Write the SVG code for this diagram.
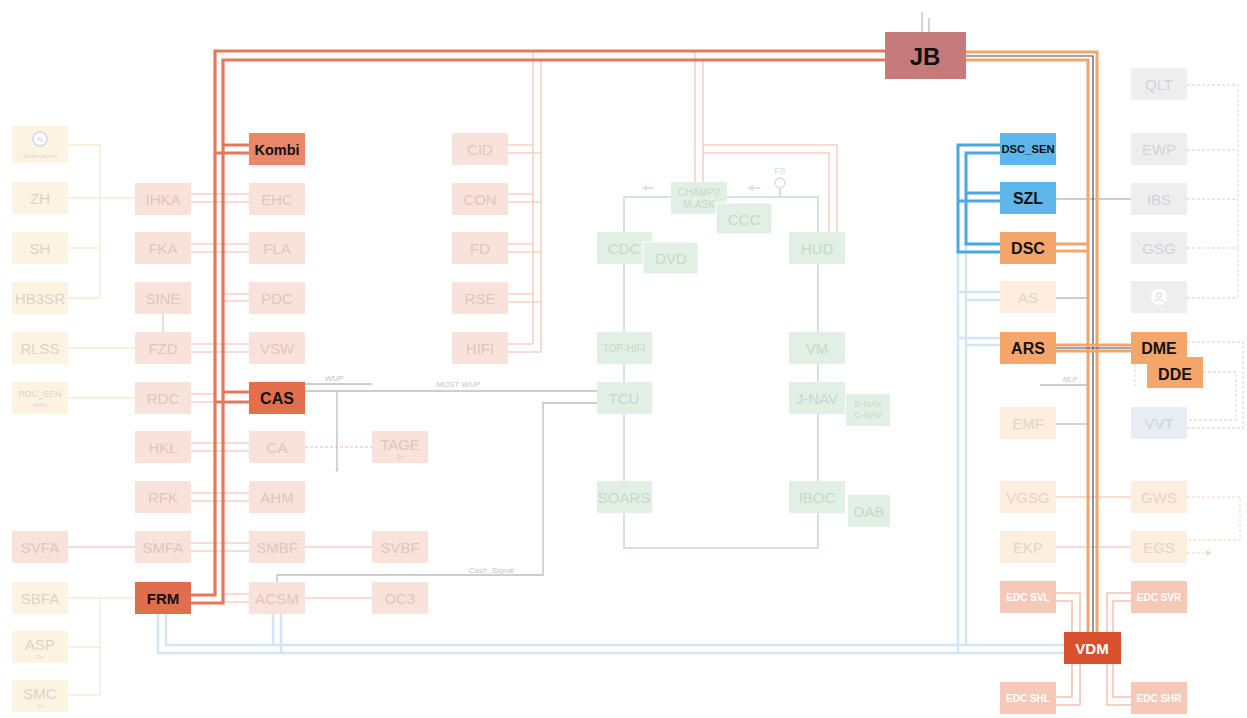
<svg xmlns="http://www.w3.org/2000/svg" width="1247" height="718" viewBox="0 0 1247 718">
<style>
text{font-family:"Liberation Sans",Arial,sans-serif;text-anchor:middle;dominant-baseline:central}
.fr{fill:#f9e2da}.tfr{fill:#e2c5bc;font-size:15px}
.fy{fill:#fdf3e3}.tfy{fill:#dcd3c6;font-size:15px}
.fg{fill:#e2efe5}.tfg{fill:#c5d9ca;font-size:15px}
.fgr{fill:#eeeeef}.tfgr{fill:#d3d3d6;font-size:15px}
.fo{fill:#fdeee0}.tfo{fill:#e6d3c5;font-size:15px}
.edc{fill:#f6c8b8}.tedc{fill:#ffffff;font-size:10px;font-weight:bold}
.strong{font-weight:bold;fill:#111;font-size:16px}
.lr{fill:none;stroke:#e5785b;stroke-width:3.2}
.lo{fill:none;stroke:#f2a66c;stroke-width:3}
.ld{fill:none;stroke:#4b4a6a;stroke-width:1.2}
.lb{fill:none;stroke:#4aa8e2;stroke-width:3}
.lbf{fill:none;stroke:#d3e5f4;stroke-width:2.5}
.lp{fill:none;stroke:#f6d0c4;stroke-width:1.6}
.ly{fill:none;stroke:#f5ebd5;stroke-width:1.3}
.lg{fill:none;stroke:#d3e5d8;stroke-width:2}
.lgr{fill:none;stroke:#bdbdbd;stroke-width:1.3}
.lgd{fill:none;stroke:#e0e0e3;stroke-width:1.3;stroke-dasharray:3 2}
.lod{fill:none;stroke:#f7e3cf;stroke-width:1.3;stroke-dasharray:3 2}
.le{fill:none;stroke:#f3c4b4;stroke-width:1.6}
.lab{fill:#c2c2c2;font-size:8px;font-style:italic}
</style>

<g id="connectors">
  <path class="ly" d="M67,145 H100 V298 M67,198 H135 M67,248 H100 M67,298 H100 M67,348 H135 M67,398 H135 M67,598 H135 M100,598 V695 M67,647 H100 M67,695 H100"/>
  <path class="lp" d="M67,547 H135 M163,314 V332 M305,547 H372 M305,598 H372"/>
  <path class="lp" stroke-dasharray="3 2" d="M305,447 H372"/>
  <path class="lp" d="M191,194 H249 M191,202 H249 M191,244 H249 M191,252 H249 M223,294 H249 M223,301 H249 M191,344 H249 M191,352 H249 M191,394 H215 M191,402 H215 M191,443 H249 M191,451 H249 M191,493 H249 M191,501 H249 M191,543 H249 M191,551 H249 M223,594 H249 M223,602 H249"/>
  <path class="lp" d="M533,51 V344 M541,60 V352 M508,145 H533 M508,153 H541 M508,194 H533 M508,202 H541 M508,244 H533 M508,252 H541 M508,294 H533 M508,302 H541 M508,344 H533 M508,352 H541"/>
  <path class="lp" d="M695,51 V182 M703,60 V182 M703,145 H837 V232 M703,153 H829 V232"/>
  <path class="lg" d="M624,197 H818 V548 H624 Z M780,188 V197"/>
  <circle cx="780" cy="183" r="5" fill="#fff" stroke="#d3e5d8" stroke-width="1.5"/>
  <path fill="#d8e8dc" d="M641,188 l6,-3 v2 h7 v2 h-7 v2 z M747,188 l6,-3 v2 h7 v2 h-7 v2 z"/>
  <path class="lgr" d="M305,391 H597"/>
  <path class="lgr" stroke="#cfcfcf" d="M305,384 H372 M337,391 V470"/>
  <circle cx="337" cy="470" r="1.5" fill="#cfcfcf"/>
  <path class="lgr" stroke="#c3c7cc" d="M277,582 V575 H543 V403 H597"/>
  <path class="lbf" d="M958,252 V653 M966,244 V645 M158,614 V653 H1064 M166,614 V645 H1064 M273,614 V645 M281,614 V653 M958,292 H1000 M966,300 H1000 M958,338 H1000 M966,345 H1000"/>
  <path class="lgd" d="M1187,85 H1238 V298 M1187,150 H1238 M1187,199 H1238 M1187,248 H1238 M1187,298 H1238 M1187,342 H1243 V428 H1187 M1203,372 H1236 V420 H1187 M1135,364 V386"/>
  <path class="lod" d="M1187,497 H1240 V540 H1187 M1187,553 H1206"/>
  <path fill="#f2d9c6" d="M1212,553 l-6,-3 v6 z"/>
  <path class="lp" stroke="#f3dccb" d="M1056,497 H1131 M1056,547 H1131"/>
  <path class="lgr" stroke="#cfcfcf" d="M1056,298 H1088 M1040,385 H1088"/>
  <path class="lgr" stroke="#f1cbae" stroke-width="2" d="M1056,424 H1088"/>
  <path class="lgr" stroke="#8d8d8d" d="M1056,199 H1131"/>
  <path class="le" d="M1056,593 H1080 V632 M1056,601 H1072 V632 M1131,593 H1107 V632 M1131,601 H1113 V632 M1056,705 H1080 V664 M1056,697 H1072 V664 M1131,705 H1107 V664 M1131,697 H1113 V664"/>
  <path class="lgr" stroke="#c4c4c4" d="M922,12 V32 M929,18 V32"/>
  <path class="lr" d="M885,51 H215 V595 H191"/>
  <path class="lr" d="M885,60 H223 V603 H191"/>
  <path class="lr" d="M223,145 H249 M215,153 H249 M223,392 H249 M215,402 H249"/>
  <path class="lo" d="M966,52 H1097 V632"/>
  <path class="lo" d="M966,60 H1088 V632"/>
  <path class="ld" d="M966,56 H1093 V632"/>
  <path class="lo" stroke-width="2.5" d="M1056,244 H1088 M1056,251 H1088 M1056,345 H1131 M1056,351 H1131"/>
  <path class="ld" stroke="#7d6f78" d="M1056,348 H1131"/>
  <path class="lb" d="M1000,145 H958 V252 H1000"/>
  <path class="lb" d="M1000,153 H966 V244 H1000"/>
  <path class="lb" d="M1000,193 H966 M1000,201 H958"/>
  <text class="lab" x="334" y="378">WUP</text>
  <text class="lab" x="458" y="384">MOST WUP</text>
  <text class="lab" x="491" y="570">Cash_Signal</text>
  <text class="lab" x="1070" y="379" style="font-size:7px">MLP</text>
  <text class="lab" x="780" y="171" style="font-style:normal;font-size:9px;fill:#d0ddd3">FS</text>
</g>

<g id="n-icon1"><rect class="fy" x="12" y="126" width="56" height="37"/><circle cx="40" cy="139" r="7" fill="#fff" stroke="#d8dde8" stroke-width="2"/><text x="40" y="139" style="font-size:8px;fill:#c9d0e0">N</text><text x="40" y="156" style="font-size:5px;fill:#ddd5c8">Nackenwärmer</text></g>
<g id="n-ZH"><rect class="fy" x="12" y="182" width="56" height="32"/><text class="tfy" x="40" y="198">ZH</text></g>
<g id="n-SH"><rect class="fy" x="12" y="232" width="56" height="32"/><text class="tfy" x="40" y="248">SH</text></g>
<g id="n-HB3SR"><rect class="fy" x="12" y="282" width="56" height="32"/><text class="tfy" x="40" y="298">HB3SR</text></g>
<g id="n-RLSS"><rect class="fy" x="12" y="332" width="56" height="32"/><text class="tfy" x="40" y="348">RLSS</text></g>
<g id="n-RDCSEN"><rect class="fy" x="12" y="382" width="56" height="32"/><text class="tfy" x="40" y="394" style="font-size:9px">RDC_SEN</text><text class="tfy" x="40" y="405" style="font-size:6px">4x/5x</text></g>
<g id="n-SVFA"><rect class="fr" x="12" y="531" width="56" height="32"/><text class="tfr" x="40" y="547">SVFA</text></g>
<g id="n-SBFA"><rect class="fy" x="12" y="582" width="56" height="32"/><text class="tfy" x="40" y="598">SBFA</text></g>
<g id="n-ASP"><rect class="fy" x="12" y="631" width="56" height="32"/><text class="tfy" x="40" y="644">ASP</text><text class="tfy" x="40" y="657" style="font-size:6px">2x</text></g>
<g id="n-SMC"><rect class="fy" x="12" y="680" width="56" height="32"/><text class="tfy" x="40" y="693">SMC</text><text class="tfy" x="40" y="706" style="font-size:6px">2x</text></g>

<g id="n-IHKA"><rect class="fr" x="135" y="183" width="56" height="32"/><text class="tfr" x="163" y="199">IHKA</text></g>
<g id="n-FKA"><rect class="fr" x="135" y="232" width="56" height="32"/><text class="tfr" x="163" y="248">FKA</text></g>
<g id="n-SINE"><rect class="fr" x="135" y="282" width="56" height="32"/><text class="tfr" x="163" y="298">SINE</text></g>
<g id="n-FZD"><rect class="fr" x="135" y="332" width="56" height="32"/><text class="tfr" x="163" y="348">FZD</text></g>
<g id="n-RDC"><rect class="fr" x="135" y="382" width="56" height="32"/><text class="tfr" x="163" y="398">RDC</text></g>
<g id="n-HKL"><rect class="fr" x="135" y="431" width="56" height="32"/><text class="tfr" x="163" y="447">HKL</text></g>
<g id="n-RFK"><rect class="fr" x="135" y="481" width="56" height="32"/><text class="tfr" x="163" y="497">RFK</text></g>
<g id="n-SMFA"><rect class="fr" x="135" y="531" width="56" height="32"/><text class="tfr" x="163" y="547">SMFA</text></g>
<g id="n-FRM"><rect x="135" y="582" width="56" height="32" fill="#df6d4e"/><text class="strong" x="163" y="598" style="font-size:15px">FRM</text></g>

<g id="n-Kombi"><rect x="249" y="133" width="56" height="32" fill="#e9876b"/><text class="strong" x="277" y="150" style="font-size:14.5px">Kombi</text></g>
<g id="n-EHC"><rect class="fr" x="249" y="183" width="56" height="32"/><text class="tfr" x="277" y="199">EHC</text></g>
<g id="n-FLA"><rect class="fr" x="249" y="232" width="56" height="32"/><text class="tfr" x="277" y="248">FLA</text></g>
<g id="n-PDC"><rect class="fr" x="249" y="282" width="56" height="32"/><text class="tfr" x="277" y="298">PDC</text></g>
<g id="n-VSW"><rect class="fr" x="249" y="332" width="56" height="32"/><text class="tfr" x="277" y="348">VSW</text></g>
<g id="n-CAS"><rect x="249" y="382" width="56" height="32" fill="#e36e4d"/><text class="strong" x="277" y="398">CAS</text></g>
<g id="n-CA"><rect class="fr" x="249" y="431" width="56" height="32"/><text class="tfr" x="277" y="447">CA</text></g>
<g id="n-AHM"><rect class="fr" x="249" y="481" width="56" height="32"/><text class="tfr" x="277" y="497">AHM</text></g>
<g id="n-SMBF"><rect class="fr" x="249" y="531" width="56" height="32"/><text class="tfr" x="277" y="547">SMBF</text></g>
<g id="n-ACSM"><rect class="fr" x="249" y="582" width="56" height="32"/><text class="tfr" x="277" y="598">ACSM</text></g>

<g id="n-TAGE"><rect class="fr" x="372" y="431" width="56" height="32"/><text class="tfr" x="400" y="444">TAGE</text><text class="tfr" x="400" y="457" style="font-size:6px">2x</text></g>
<g id="n-SVBF"><rect class="fr" x="372" y="531" width="56" height="32"/><text class="tfr" x="400" y="547">SVBF</text></g>
<g id="n-OC3"><rect class="fr" x="372" y="582" width="56" height="32"/><text class="tfr" x="400" y="598">OC3</text></g>

<g id="n-CID"><rect class="fr" x="452" y="133" width="56" height="32"/><text class="tfr" x="480" y="149">CID</text></g>
<g id="n-CON"><rect class="fr" x="452" y="183" width="56" height="32"/><text class="tfr" x="480" y="199">CON</text></g>
<g id="n-FD"><rect class="fr" x="452" y="232" width="56" height="32"/><text class="tfr" x="480" y="248">FD</text></g>
<g id="n-RSE"><rect class="fr" x="452" y="282" width="56" height="32"/><text class="tfr" x="480" y="298">RSE</text></g>
<g id="n-HIFI"><rect class="fr" x="452" y="332" width="56" height="32"/><text class="tfr" x="480" y="348">HIFI</text></g>

<g id="n-CDC"><rect class="fg" x="597" y="232" width="55" height="32"/><text class="tfg" x="624" y="248">CDC</text></g>
<g id="n-DVD"><rect class="fg" x="643" y="242" width="55" height="32" stroke="#fff" stroke-width="1"/><text class="tfg" x="671" y="258">DVD</text></g>
<g id="n-CHAMP"><rect class="fg" x="671" y="182" width="56" height="32"/><text class="tfg" x="699" y="192" style="font-size:10px">CHAMP2</text><text class="tfg" x="699" y="204" style="font-size:10px">M-ASK</text></g>
<g id="n-CCC"><rect class="fg" x="716" y="203" width="56" height="31" stroke="#fff" stroke-width="1"/><text class="tfg" x="744" y="219">CCC</text></g>
<g id="n-HUD"><rect class="fg" x="789" y="232" width="56" height="32"/><text class="tfg" x="817" y="248">HUD</text></g>
<g id="n-TOPHIFI"><rect class="fg" x="597" y="332" width="55" height="32"/><text class="tfg" x="624" y="348" style="font-size:10px">TOP-HIFI</text></g>
<g id="n-TCU"><rect class="fg" x="597" y="382" width="55" height="32"/><text class="tfg" x="624" y="398">TCU</text></g>
<g id="n-SOARS"><rect class="fg" x="597" y="481" width="55" height="32"/><text class="tfg" x="624" y="497">SOARS</text></g>
<g id="n-VM"><rect class="fg" x="789" y="332" width="56" height="32"/><text class="tfg" x="817" y="348">VM</text></g>
<g id="n-JNAV"><rect class="fg" x="789" y="382" width="56" height="32"/><text class="tfg" x="817" y="398">J-NAV</text></g>
<g id="n-ENAV"><rect class="fg" x="846" y="394" width="44" height="32"/><text class="tfg" x="868" y="404" style="font-size:9px">E-NAV</text><text class="tfg" x="868" y="415" style="font-size:9px">C-NAV</text></g>
<g id="n-IBOC"><rect class="fg" x="789" y="481" width="56" height="32"/><text class="tfg" x="817" y="497">IBOC</text></g>
<g id="n-DAB"><rect class="fg" x="848" y="495" width="42" height="32"/><text class="tfg" x="869" y="511">DAB</text></g>

<g id="n-JB"><rect x="885" y="32" width="81" height="47" fill="#c57b7b"/><text class="strong" x="925" y="56" style="font-size:24px">JB</text></g>
<g id="n-QLT"><rect class="fgr" x="1131" y="68" width="56" height="32"/><text class="tfgr" x="1159" y="84">QLT</text></g>
<g id="n-EWP"><rect class="fgr" x="1131" y="133" width="56" height="32"/><text class="tfgr" x="1159" y="149">EWP</text></g>
<g id="n-IBS"><rect class="fgr" x="1131" y="183" width="56" height="32"/><text class="tfgr" x="1159" y="199">IBS</text></g>
<g id="n-GSG"><rect class="fgr" x="1131" y="232" width="56" height="32"/><text class="tfgr" x="1159" y="248">GSG</text></g>
<g id="n-icon2"><rect class="fgr" x="1131" y="281" width="56" height="32"/><circle cx="1159" cy="297" r="8" fill="#fff"/><circle cx="1159" cy="295" r="2.5" fill="none" stroke="#d3d3d6" stroke-width="1"/><path d="M1154,302 q5,-5 10,0" fill="none" stroke="#d3d3d6" stroke-width="1"/></g>
<g id="n-VVT"><rect x="1131" y="407" width="56" height="32" fill="#e7edf2"/><text class="tfgr" x="1159" y="423" style="fill:#cfd6dd">VVT</text></g>

<g id="n-DSCSEN"><rect x="1000" y="133" width="56" height="32" fill="#5eb6ea"/><text class="strong" x="1028" y="149" style="font-size:10.5px" textLength="53" lengthAdjust="spacingAndGlyphs">DSC_SEN</text></g>
<g id="n-SZL"><rect x="1000" y="182" width="56" height="32" fill="#5eb6ea"/><text class="strong" x="1028" y="198">SZL</text></g>
<g id="n-DSC"><rect x="1000" y="232" width="56" height="32" fill="#f5a76b"/><text class="strong" x="1028" y="248">DSC</text></g>
<g id="n-AS"><rect class="fo" x="1000" y="281" width="56" height="32"/><text class="tfo" x="1028" y="297">AS</text></g>
<g id="n-ARS"><rect x="1000" y="332" width="56" height="32" fill="#f5a76b"/><text class="strong" x="1028" y="348">ARS</text></g>
<g id="n-EMF"><rect class="fo" x="1000" y="407" width="56" height="32"/><text class="tfo" x="1028" y="423">EMF</text></g>
<g id="n-VGSG"><rect class="fo" x="1000" y="481" width="56" height="32"/><text class="tfo" x="1028" y="497">VGSG</text></g>
<g id="n-EKP"><rect class="fo" x="1000" y="531" width="56" height="32"/><text class="tfo" x="1028" y="547">EKP</text></g>
<g id="n-DME"><rect x="1131" y="332" width="56" height="32" fill="#f5a76b"/><text class="strong" x="1159" y="348">DME</text></g>
<g id="n-DDE"><rect x="1147" y="357" width="56" height="31" fill="#f5a76b"/><text class="strong" x="1175" y="374">DDE</text></g>
<g id="n-GWS"><rect class="fo" x="1131" y="481" width="56" height="32"/><text class="tfo" x="1159" y="497">GWS</text></g>
<g id="n-EGS"><rect class="fo" x="1131" y="531" width="56" height="32"/><text class="tfo" x="1159" y="547">EGS</text></g>
<g id="n-EDCSVL"><rect class="edc" x="1000" y="581" width="56" height="32"/><text class="tedc" x="1028" y="597">EDC SVL</text></g>
<g id="n-EDCSVR"><rect class="edc" x="1131" y="581" width="56" height="32"/><text class="tedc" x="1159" y="597">EDC SVR</text></g>
<g id="n-EDCSHL"><rect class="edc" x="1000" y="682" width="56" height="32"/><text class="tedc" x="1028" y="698">EDC SHL</text></g>
<g id="n-EDCSHR"><rect class="edc" x="1131" y="682" width="56" height="32"/><text class="tedc" x="1159" y="698">EDC SHR</text></g>
<g id="n-VDM"><rect x="1064" y="632" width="57" height="32" fill="#d9502f"/><text x="1092" y="648" style="font-size:15px;font-weight:bold;fill:#fff">VDM</text></g>
</svg>
